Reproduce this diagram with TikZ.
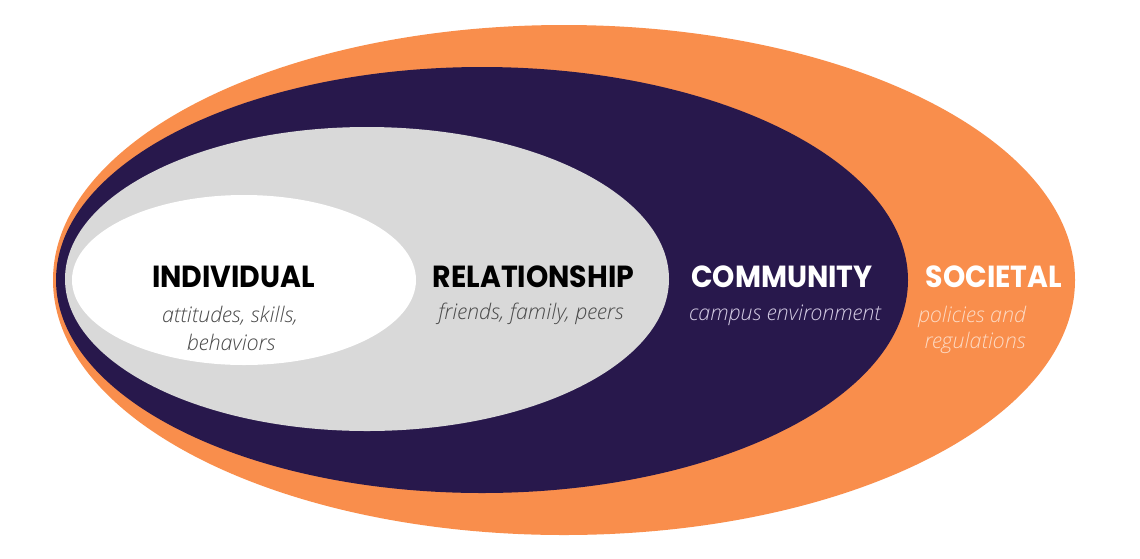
\documentclass[tikz,border=0pt]{standalone}
\usepackage{fontspec}
\setmainfont{Open Sans}
\newfontfamily\headfont{Poppins}[UprightFont=* Bold]
\newfontfamily\subfont{Open Sans}[UprightFont=* Light Italic, ItalicFont=* Light Italic]
\definecolor{orng}{HTML}{F98E4C}
\definecolor{navy}{HTML}{28184C}
\definecolor{lgray}{HTML}{D9D9D9}
\definecolor{subgray}{HTML}{4A4A4A}
\definecolor{lav}{HTML}{D4CCE4}
\definecolor{pale}{HTML}{FDD9C2}
\newcommand\hd[1]{\scalebox{0.93}[1]{#1}}
\begin{document}
\begin{tikzpicture}[x=1pt,y=-1pt,
  head/.style={font=\headfont\fontsize{30.5}{32}\selectfont, inner sep=0pt, anchor=base},
  sub/.style={font=\subfont\fontsize{21.5}{28}\selectfont, inner sep=0pt, anchor=base}]
\useasboundingbox[fill=white] (0,0) rectangle (1140,558);
\fill[orng] (564,280) ellipse [x radius=511, y radius=255];
\fill[navy] (482,280) ellipse [x radius=426, y radius=213];
\fill[lgray] (367,279) ellipse [x radius=302, y radius=152];
\fill[white] (244,280) ellipse [x radius=172, y radius=85];
\node[head, text=black] (ind) at (233.5,287) {\hd{INDIVIDUAL}};
\node[sub, text=subgray] (inds1) at (230,322) {attitudes, skills,};
\node[sub, text=subgray] (inds2) at (231,350) {behaviors};
\node[head, text=black] (rel) at (533.5,287) {\hd{RELATIONSHIP}};
\node[sub, text=subgray] (rels) at (531,319) {friends, family, peers};
\node[head, text=white] (com) at (782,287) {\hd{COMMUNITY}};
\node[sub, text=lav] (coms) at (785,320) {campus environment};
\node[head, text=white] (soc) at (994,287) {\hd{SOCIETAL}};
\node[sub, text=pale] (socs1) at (972,322) {policies and};
\node[sub, text=pale] (socs2) at (975,348) {regulations};
\end{tikzpicture}
\end{document}
